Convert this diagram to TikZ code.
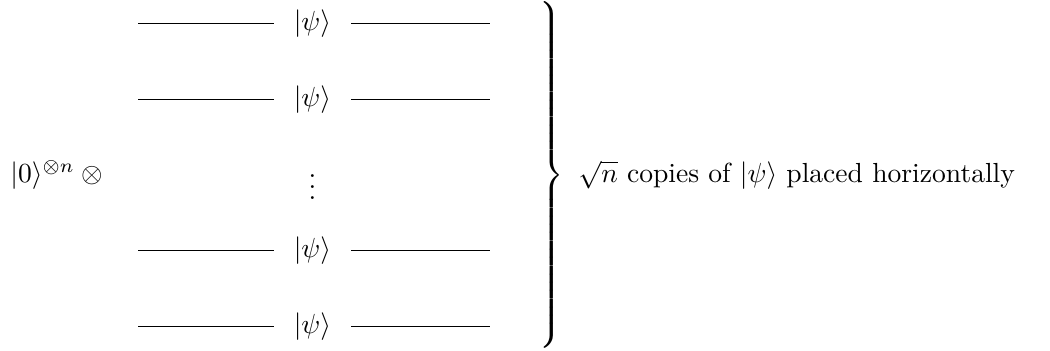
\documentclass[tikz,border=0pt]{standalone}
\begin{document}
\begin{tikzpicture}[ket/.style={inner xsep=7pt}]
		\useasboundingbox (0,0) rectangle (13.375,-4.459);
		\node [anchor=west, inner sep=0pt] (Z) at (0.126,-2.229) {$|0\rangle^{\otimes n}\otimes{}$};
		
		\node [ket] (P1) at (3.98,-0.301) {$|\psi\rangle$};
		\node [ket] (P2) at (3.98,-1.263) {$|\psi\rangle$};
		\node (D) at (3.98,-2.28) {$\vdots$};
		\node [ket] (P3) at (3.98,-3.186) {$|\psi\rangle$};
		\node [ket] (P4) at (3.98,-4.157) {$|\psi\rangle$};
		
		\coordinate (L1) at (1.758,-0.301);
		\coordinate (L2) at (1.758,-1.263);
		\coordinate (L3) at (1.758,-3.186);
		\coordinate (L4) at (1.758,-4.157);
		\coordinate (R1) at (6.245,-0.301);
		\coordinate (R2) at (6.245,-1.263);
		\coordinate (R3) at (6.245,-3.186);
		\coordinate (R4) at (6.245,-4.157);
		
		\draw (L1) -- (P1); \draw (P1) -- (R1);
		\draw (L2) -- (P2); \draw (P2) -- (R2);
		\draw (L3) -- (P3); \draw (P3) -- (R3);
		\draw (L4) -- (P4); \draw (P4) -- (R4);
		
		\node (B) at (7.005,-2.229) {$\left.\vcenter{\hbox{\rule{0pt}{126pt}}}\right\}$}; %brace over the rows
		\node [anchor=west, inner sep=0pt] (T) at (7.36,-2.229) {$\sqrt{n}$ copies of $|\psi\rangle$ placed horizontally};
	\end{tikzpicture}
\end{document}
